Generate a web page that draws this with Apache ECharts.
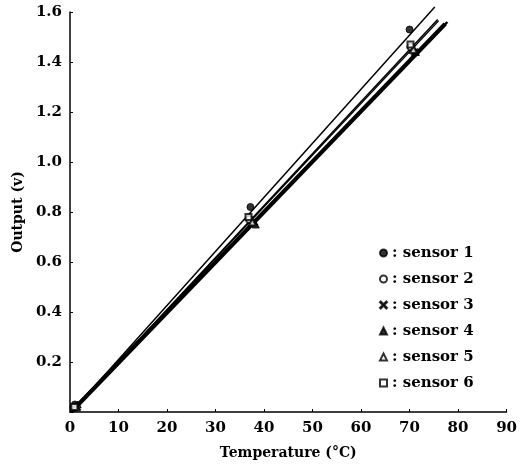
<!DOCTYPE html>
<html style="height: 100%">
  <head>
    <meta charset="utf-8" />
  </head>
  <body style="height: 100%; margin: 0; background: #fff">
    <div id="container" style="width: 520px; height: 471px"></div>
    <script
      type="text/javascript"
      src="https://cdn.jsdelivr.net/npm/echarts@6.0.0/dist/echarts.min.js"
    ></script>

    <script type="text/javascript">
      var dom = document.getElementById("container");
      var myChart = echarts.init(dom, null, { renderer: "canvas" });

      // measured points, [temperature °C, output V]
      let sensorNames = ["sensor 1", "sensor 2", "sensor 3", "sensor 4", "sensor 5", "sensor 6"];
      let sensor1 = [[1.0, 0.03], [37.2, 0.82], [70.0, 1.53]];
      let sensor2 = [[0.8, 0.02], [37.0, 0.77], [70.3, 1.46]];
      let sensor3 = [[1.5, 0.02], [38.0, 0.76], [71.0, 1.44]];
      let sensor4 = [[1.6, 0.03], [38.3, 0.75], [71.3, 1.44]];
      let sensor5 = [[1.2, 0.02], [37.6, 0.76], [70.8, 1.45]];
      let sensor6 = [[0.9, 0.02], [36.8, 0.78], [70.2, 1.47]];

      // fitted straight lines, start and end
      let fit1 = [[0.3, 0.0], [75.2, 1.62]];
      let fit2 = [[0.3, 0.0], [75.8, 1.57]];
      let fit3 = [[0.5, 0.0], [77.5, 1.55]];
      let fit4 = [[0.5, 0.01], [77.8, 1.56]];
      let fit5 = [[0.5, 0.01], [77.2, 1.555]];
      let fit6 = [[0.3, 0.0], [76.0, 1.565]];

      let xTicks = [0, 10, 20, 30, 40, 50, 60, 70, 80, 90];
      let yTicks = [0.2, 0.4, 0.6, 0.8, 1.0, 1.2, 1.4, 1.6];

      let sensorData = [sensor1, sensor2, sensor3, sensor4, sensor5, sensor6];
      let fitData = [fit1, fit2, fit3, fit4, fit5, fit6];
      let fitWidth = [1.5, 1.5, 2.5, 2.5, 2.5, 1.2];

      const crossPath =
        "path://M0,1L1,0L5,4L9,0L10,1L6,5L10,9L9,10L5,6L1,10L0,9L4,5Z";
      let symbols = ["circle", "emptyCircle", crossPath, "triangle", "emptyTriangle", "emptyRect"];
      let symbolSizes = [7, 7, 7, 7, 7, 6];

      const font = "DejaVu Serif";

      let series = [];
      for (let i = 0; i < fitData.length; i++) {
        series.push({
          name: "fit" + (i + 1),
          type: "line",
          data: fitData[i],
          symbol: "none",
          silent: true,
          clip: false,
          lineStyle: { color: "#000", width: fitWidth[i] },
        });
      }
      for (let i = 0; i < sensorData.length; i++) {
        series.push({
          name: sensorNames[i],
          type: "scatter",
          data: sensorData[i],
          symbol: symbols[i],
          symbolSize: symbolSizes[i],
          clip: false,
          itemStyle: { color: "#000", borderColor: "#000", borderWidth: 1 },
          z: 3,
        });
      }

      let option = {
        animation: false,
        backgroundColor: "#fff",
        grid: { left: 70, right: 12, top: 12, bottom: 59 },
        legend: {
          data: sensorNames,
          orient: "vertical",
          left: 374,
          top: 239,
          itemWidth: 7,
          itemHeight: 7,
          itemGap: 8,
          formatter: function (name) {
            return ": " + name;
          },
          textStyle: {
            fontFamily: font,
            fontSize: 15,
            fontWeight: "bold",
            color: "#000",
            lineHeight: 18,
          },
        },
        xAxis: {
          type: "value",
          min: xTicks[0],
          max: xTicks[xTicks.length - 1],
          interval: 10,
          name: "Temperature (°C)",
          nameLocation: "middle",
          nameGap: 34,
          nameTextStyle: { fontFamily: font, fontSize: 14, fontWeight: "bold", color: "#000" },
          axisLine: { lineStyle: { color: "#000", width: 1.5 } },
          axisTick: { inside: true, length: 3, lineStyle: { color: "#000" } },
          axisLabel: { fontFamily: font, fontSize: 15, fontWeight: "bold", color: "#000", margin: 9 },
          splitLine: { show: false },
        },
        yAxis: {
          type: "value",
          min: 0,
          max: yTicks[yTicks.length - 1],
          interval: 0.2,
          name: "Output (v)",
          nameLocation: "middle",
          nameGap: 42,
          nameTextStyle: { fontFamily: font, fontSize: 14, fontWeight: "bold", color: "#000" },
          axisLine: { show: true, lineStyle: { color: "#000", width: 1.5 } },
          axisTick: { inside: true, length: 3, lineStyle: { color: "#000" } },
          axisLabel: {
            fontFamily: font,
            fontSize: 15,
            fontWeight: "bold",
            color: "#000",
            margin: 8,
            formatter: function (v) {
              return v === 0 ? "" : v.toFixed(1);
            },
          },
          splitLine: { show: false },
        },
        series: series,
      };

      myChart.setOption(option);
    </script>
  </body>
</html>
